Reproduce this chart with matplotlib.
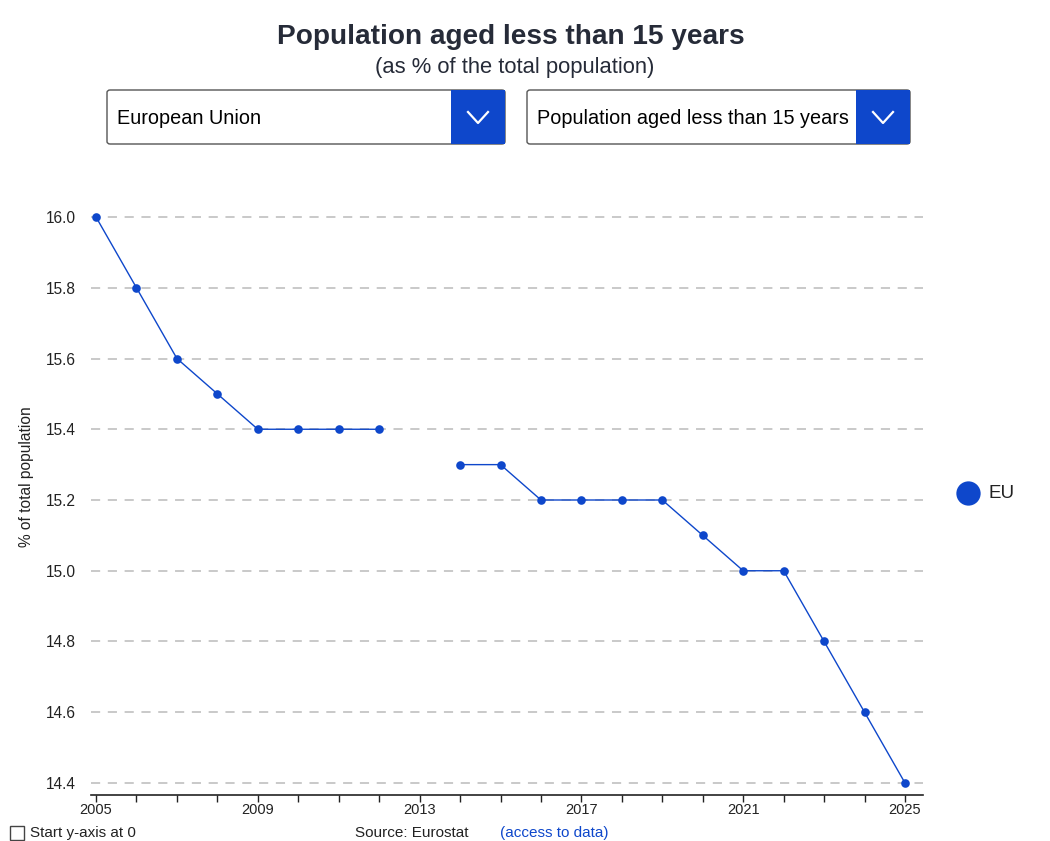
import numpy as np
import matplotlib
matplotlib.use('Agg')
import matplotlib.pyplot as plt
from matplotlib.patches import FancyBboxPatch, Rectangle
from matplotlib.lines import Line2D

plt.rcParams['font.family'] = ['Liberation Sans', 'DejaVu Sans']

years = [2005, 2006, 2007, 2008, 2009, 2010, 2011, 2012, 2013, 2014, 2015,
         2016, 2017, 2018, 2019, 2020, 2021, 2022, 2023, 2024, 2025]
eu_share = [16.0, 15.8, 15.6, 15.5, 15.4, 15.4, 15.4, 15.4, np.nan, 15.3, 15.3,
            15.2, 15.2, 15.2, 15.2, 15.1, 15.0, 15.0, 14.8, 14.6, 14.4]
y_ticks = [14.4, 14.6, 14.8, 15.0, 15.2, 15.4, 15.6, 15.8, 16.0]
x_labels = [2005, 2009, 2013, 2017, 2021, 2025]

BLUE = '#0e47cb'
W, H = 1050, 841

fig = plt.figure(figsize=(W / 100, H / 100), dpi=100)


def fx(x):
    return x / W


def fy(y):
    # pixel row from top -> figure fraction
    return 1 - y / H


# title block
fig.text(fx(511), fy(37), 'Population aged less than 15 years', ha='center', va='center',
         fontsize=20.2, fontweight='bold', color='#262b38')
fig.text(fx(515), fy(67), '(as % of the total population)', ha='center', va='center',
         fontsize=15.8, color='#262b38')


def dropdown(x0, x1, xb, label):
    y0, y1 = 90, 144
    box = FancyBboxPatch((fx(x0), fy(y1)), (x1 - x0) / W, (y1 - y0) / H,
                         boxstyle='round,pad=0,rounding_size=0.003',
                         transform=fig.transFigure, facecolor='white',
                         edgecolor='#555555', linewidth=1)
    fig.patches.append(box)
    fig.patches.append(Rectangle((fx(xb), fy(y1 - 0.5)), (x1 - xb - 0.5) / W,
                                 (y1 - y0 - 1) / H, transform=fig.transFigure,
                                 facecolor=BLUE, edgecolor='none'))
    cx, cy = (xb + x1) / 2, (y0 + y1) / 2
    fig.lines.append(Line2D([fx(cx - 10), fx(cx), fx(cx + 10)],
                            [fy(cy - 5), fy(cy + 6), fy(cy - 5)],
                            transform=fig.transFigure, color='white', linewidth=1.6))
    fig.text(fx(x0 + 10), fy(cy + 2), label, ha='left', va='center',
             fontsize=14.3, color='black')


dropdown(107, 505, 451, 'European Union')
dropdown(527, 910, 856, 'Population aged less than 15 years')

# main chart
ax = fig.add_axes([fx(91), fy(795), (923 - 91) / W, (795 - 205) / H])
ax.plot(years, eu_share, color=BLUE, linewidth=1, marker='o', markersize=6.2,
        markeredgewidth=0, zorder=3)

ax.set_xlim(2004.876, 2025.445)
ax.set_ylim(14.366, 16.034)
ax.set_yticks(y_ticks)
ax.set_yticklabels([f'{v:.1f}' for v in y_ticks], fontsize=11.2, color='#222222')
ax.set_xticks(range(2005, 2026))
ax.set_xticklabels([str(y) if y in x_labels else '' for y in range(2005, 2026)],
                   fontsize=10.5, color='#222222')
ax.tick_params(axis='y', length=0, pad=11)
ax.tick_params(axis='x', length=5, width=1, color='#222222', pad=1)
ax.grid(True, axis='y', color='#bbbbbb', linestyle=(0, (6, 5)), linewidth=1.1)
for s in ['top', 'right', 'left']:
    ax.spines[s].set_visible(False)
ax.spines['bottom'].set_color('#222222')
ax.spines['bottom'].set_linewidth(1.2)
fig.text(fx(27), fy(477), '% of total population', rotation=90, ha='center', va='center',
         fontsize=11.2, color='#222222')

# legend
fig.add_artist(Line2D([fx(968)], [fy(493)], transform=fig.transFigure, marker='o',
                      markersize=17.5, markeredgewidth=0, color=BLUE, linestyle='none'))
fig.text(fx(988), fy(494), 'EU', ha='left', va='center', fontsize=13.5, color='#222222')

# footer
fig.patches.append(Rectangle((fx(10), fy(840)), 14 / W, 14 / H, transform=fig.transFigure,
                             facecolor='white', edgecolor='#444444', linewidth=1))
fig.text(fx(30), fy(833), 'Start y-axis at 0', ha='left', va='center', fontsize=11,
         color='#222222')
fig.text(fx(355), fy(833), 'Source: Eurostat', ha='left', va='center', fontsize=11,
         color='#222222')
fig.text(fx(500), fy(833), '(access to data)', ha='left', va='center', fontsize=11,
         color=BLUE)

fig.savefig('out.png', dpi=100)
